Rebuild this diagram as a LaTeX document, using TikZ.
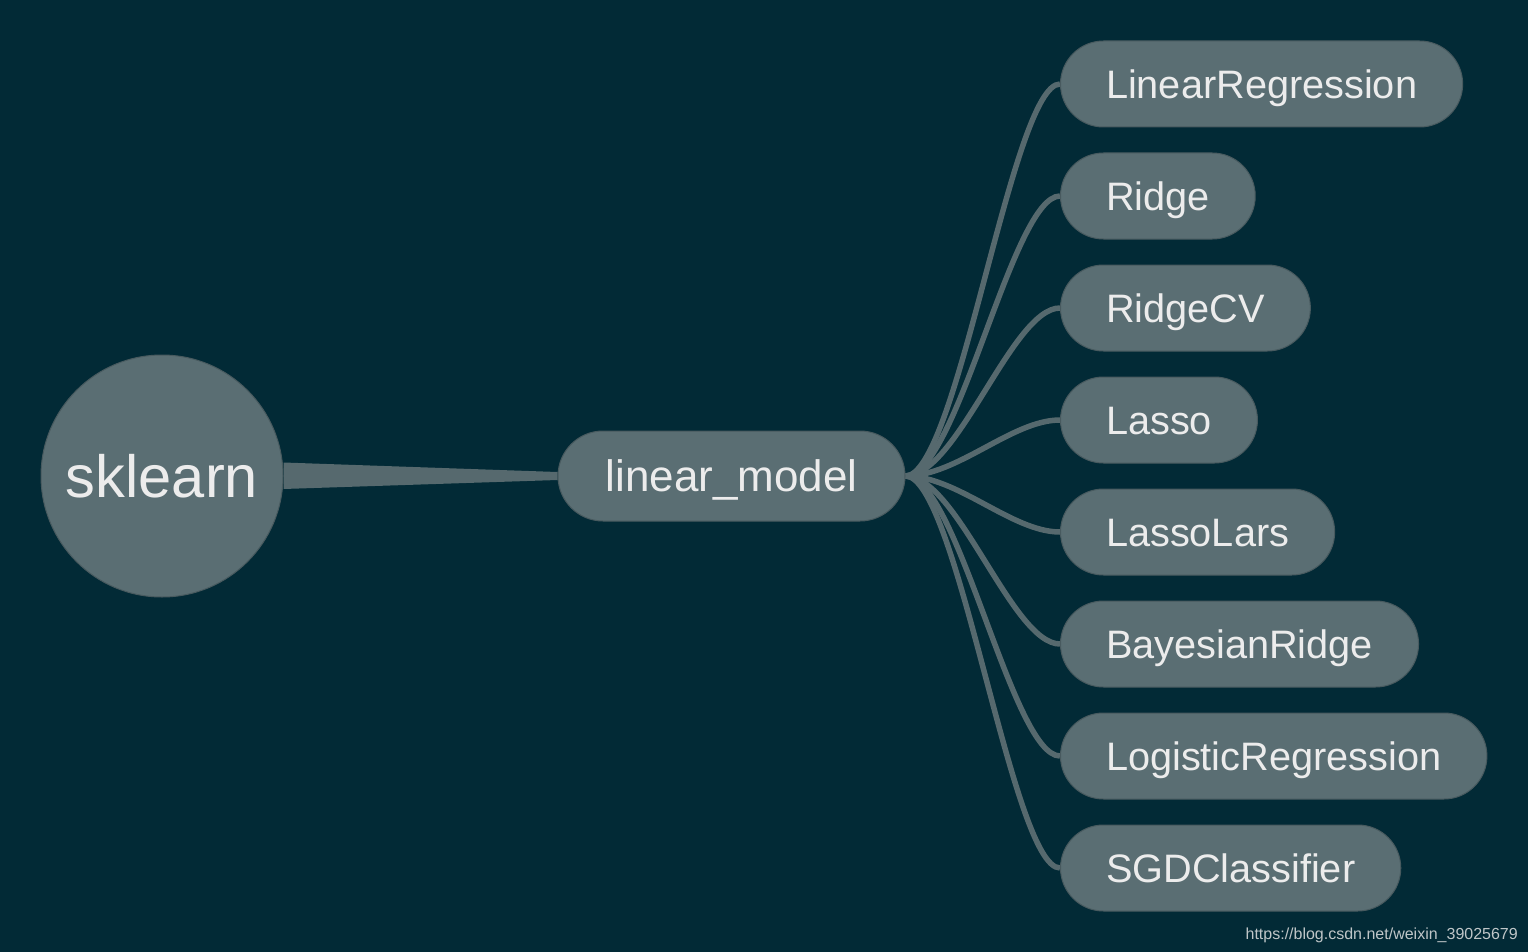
\documentclass[tikz,border=0pt]{standalone}
\usepackage{fontspec}
\setmainfont{Liberation Sans}
\definecolor{bgc}{HTML}{022A36}
\definecolor{nodefill}{HTML}{5A6E73}
\definecolor{nodeborder}{HTML}{485A5F}
\definecolor{textc}{HTML}{ECECEC}
\definecolor{linkc}{HTML}{56696E}
\definecolor{markc}{HTML}{BFC6C8}
\pgfdeclarelayer{bglayer}
\pgfdeclarelayer{linklayer}
\pgfsetlayers{bglayer,linklayer,main}
\tikzset{
  childbox/.style={draw=nodeborder, line width=1pt, fill=nodefill, rounded corners=43pt,
    minimum height=86pt, inner xsep=45.5pt, inner ysep=0pt, anchor=west, text=textc,
    font=\fontsize{39.7}{39.7}\selectfont, text height=28.4pt, text depth=0pt},
  midbox/.style={draw=nodeborder, line width=1pt, fill=nodefill, rounded corners=45pt,
    minimum height=90pt, minimum width=347pt, inner sep=0pt, text=textc,
    font=\fontsize{44}{44}\selectfont, text height=31.5pt, text depth=0pt},
  rootbox/.style={circle, draw=nodeborder, line width=1pt, fill=nodefill,
    minimum size=242pt, inner sep=0pt, text=textc,
    font=\fontsize{59.6}{59.6}\selectfont, text height=42.7pt, text depth=0pt},
  link/.style={draw=linkc, line width=5.5pt},
  wedge/.style={fill=linkc},
}
\begin{document}
\begin{tikzpicture}[x=1pt,y=-1pt]
\useasboundingbox (0,0) rectangle (1528,952);
\begin{pgfonlayer}{bglayer}
\fill[bgc] (0,0) rectangle (1528,952);
\end{pgfonlayer}
\node[rootbox] (root) at (162,476) {sklearn};
\node[midbox] (lm) at (731.5,476) {linear\_model};
\node[childbox] (c1) at (1060,84) {LinearRegression};
\node[childbox] (c2) at (1060,196) {Ridge};
\node[childbox] (c3) at (1060,308) {RidgeCV};
\node[childbox] (c4) at (1060,420) {Lasso};
\node[childbox] (c5) at (1060,532) {LassoLars};
\node[childbox] (c6) at (1060,644) {BayesianRidge};
\node[childbox] (c7) at (1060,756) {LogisticRegression};
\node[childbox] (c8) at (1060,868) {SGDClassifier};
\begin{pgfonlayer}{linklayer}
\fill[wedge] ([yshift=-13pt]root.east) -- ([yshift=-4pt]lm.west) -- ([yshift=4pt]lm.west) -- ([yshift=13.5pt]root.east) -- cycle;
\foreach \i in {1,...,8}{
  \draw[link] (lm.east) .. controls +(52,0) and +(-48,0) .. (c\i.west);
}
\end{pgfonlayer}
\node[anchor=base east, text=markc, font=\fontsize{16}{16}\selectfont, inner sep=0pt] (mark) at (1518,939) {https://blog.csdn.net/weixin\_39025679};
\end{tikzpicture}
\end{document}
